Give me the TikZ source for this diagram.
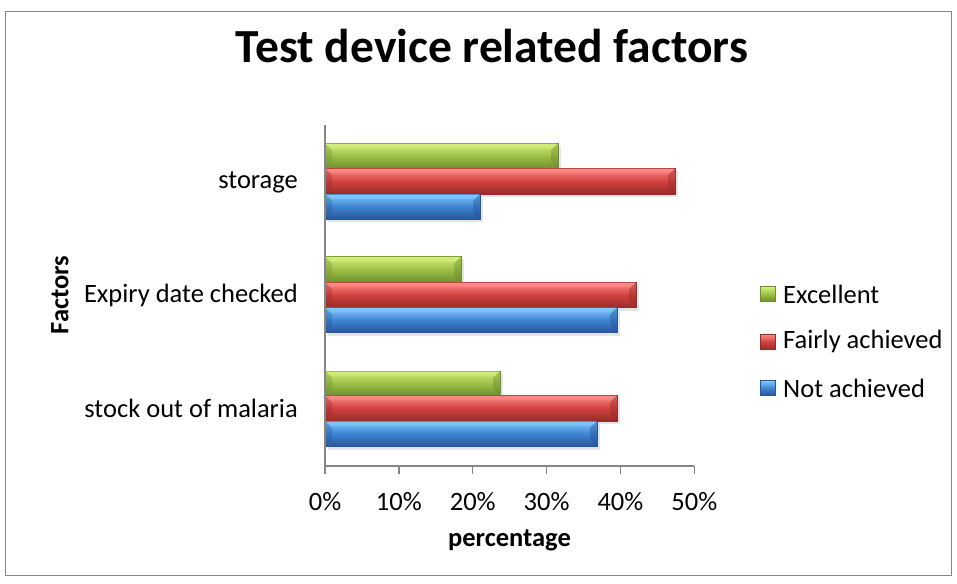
\documentclass[tikz,border=0pt]{standalone}
\usepackage{fontspec}
\setmainfont{Carlito}
\definecolor{gl}{HTML}{D4F07C}\definecolor{gm}{HTML}{9CC046}\definecolor{gd}{HTML}{6E8F2E}
\definecolor{rl}{HTML}{FF8C8A}\definecolor{rm}{HTML}{D2413E}\definecolor{rd}{HTML}{962C2A}
\definecolor{bl}{HTML}{82C9FF}\definecolor{bm}{HTML}{3D84D2}\definecolor{bd}{HTML}{27569A}
\definecolor{axisgray}{HTML}{868686}
\newcommand{\hbarseg}[4]{%
  \fill[black, opacity=0.10] (328,#1+3) rectangle (#3+3,#2+3);
  \path[top color=#4l, bottom color=#4d, middle color=#4m, draw=#4d, line width=0.6pt] (325,#1) rectangle (#3,#2);
  \fill[#4l, opacity=0.5] (325,#1) -- (#3,#1) -- (#3-6,#1+5) -- (331,#1+5) -- cycle;
  \fill[#4d, opacity=0.45] (#3,#1) -- (#3-7,#1+7) -- (#3-7,#2-7) -- (#3,#2) -- cycle;
  \fill[#4d, opacity=0.35] (325,#1) -- (332,#1+7) -- (332,#2-7) -- (325,#2) -- cycle;
}
\tikzset{
  lbl/.style={inner sep=0pt, font=\fontsize{26.5}{30}\selectfont},
  bold/.style={inner sep=0pt, font=\fontsize{26.5}{30}\selectfont\bfseries},
  axisline/.style={draw=axisgray, line width=1.5pt},
}
\begin{document}
\begin{tikzpicture}[x=1pt,y=-1pt]
\useasboundingbox (0,0) rectangle (957,583);
\draw[draw=axisgray, line width=1pt] (5,12) rectangle (951,575);
\node[inner sep=0pt, font=\fontsize{47.5}{52}\selectfont\bfseries] (title) at (492,46) {Test device related factors};
% bars: storage
\hbarseg{143.3}{168.3}{558}{g}
\hbarseg{168.3}{194}{675}{r}
\hbarseg{194}{219.3}{480}{b}
% expiry
\hbarseg{256.7}{282.3}{461}{g}
\hbarseg{282.3}{307.7}{636}{r}
\hbarseg{307.7}{332.7}{617}{b}
% stock
\hbarseg{371}{395.3}{500}{g}
\hbarseg{395.3}{421}{617}{r}
\hbarseg{421}{446.7}{597}{b}
% axes
\coordinate (o) at (325,466);
\coordinate (ytop) at (325,125);
\coordinate (xend) at (694.3,466);
\draw[axisline] (ytop) -- (o) -- (xend);
\foreach \i/\t in {0/0\%,1/10\%,2/20\%,3/30\%,4/40\%,5/50\%}{
  \draw[axisline] (325+73.86*\i,466) -- (325+73.86*\i,473.5);
  \node[lbl] (tick\i) at (325+73.86*\i,502) {\t};
}
\node[bold] (xlabel) at (509.5,540) {percentage};
\node[bold, rotate=90] (ylabel) at (60,295) {Factors};
\node[lbl, anchor=east] (c1) at (298,182) {storage};
\node[lbl, anchor=east] (c2) at (298,295) {Expiry date checked};
\node[lbl, anchor=east] (c3) at (298,408) {stock out of malaria};
% legend
\foreach \y/\c/\t/\n in {294/g/Excellent/l1, 341.7/r/Fairly achieved/l2, 388/b/Not achieved/l3}{
  \path[top color=\c l, bottom color=\c d, middle color=\c m, draw=\c d, line width=0.5pt] (760,\y-7.5) rectangle (775,\y+7.5);
  \node[lbl, anchor=west] (\n) at (783,\y) {\t};
}
\end{tikzpicture}
\end{document}
